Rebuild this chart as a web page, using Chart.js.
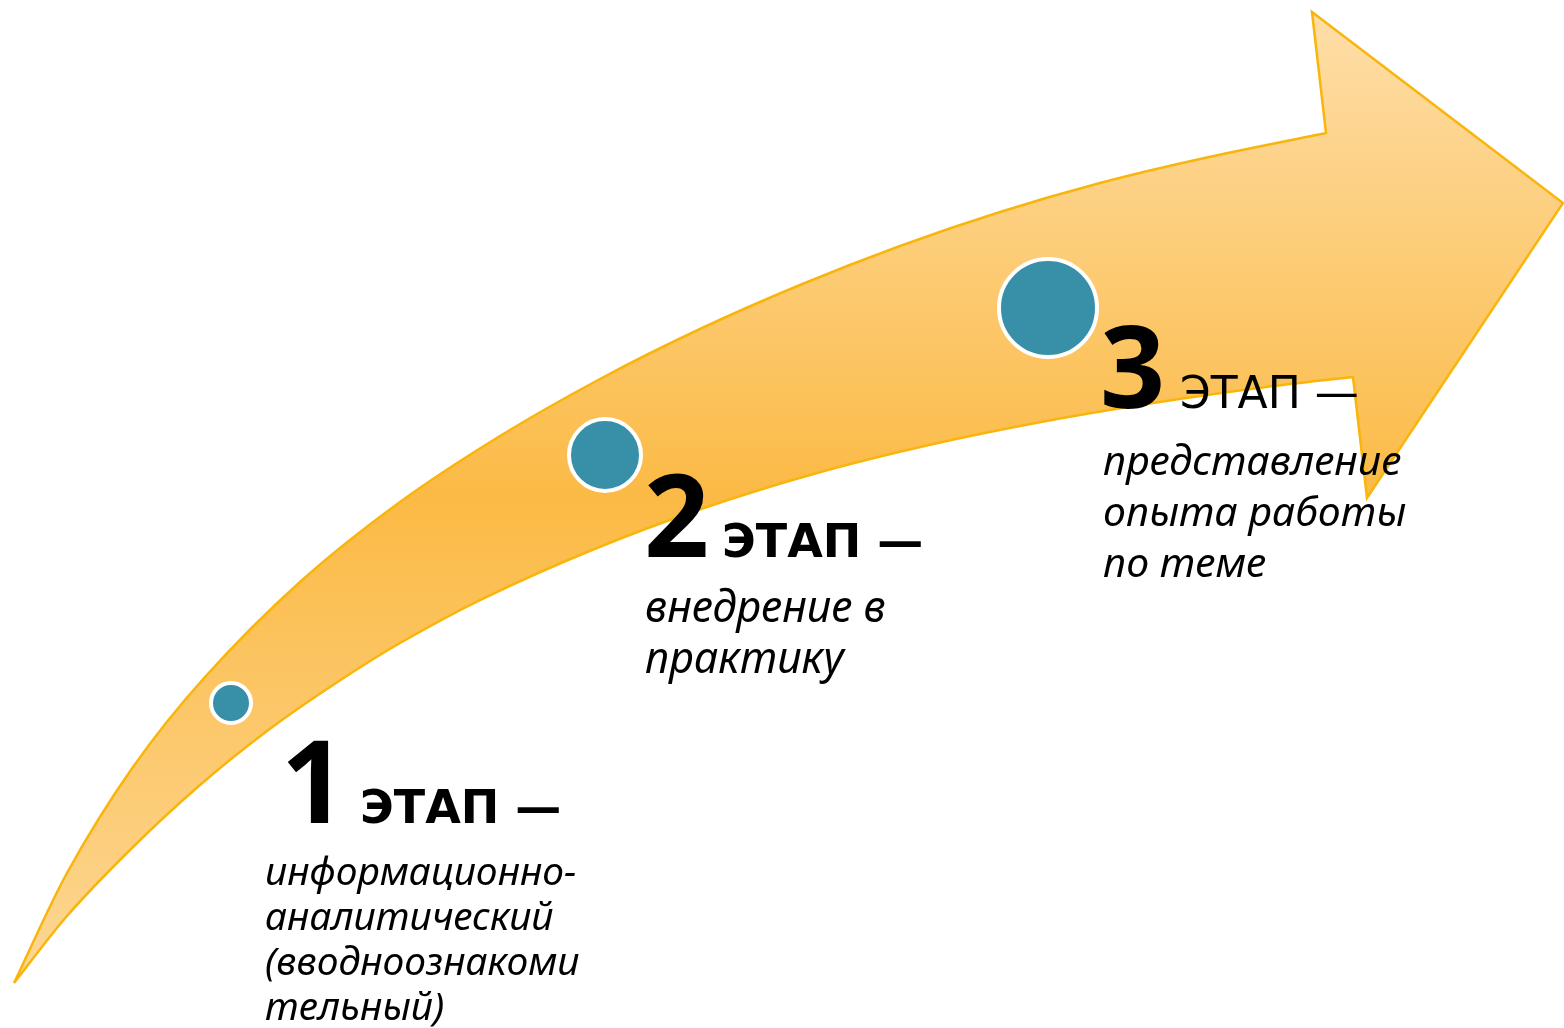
<!DOCTYPE html>
<html lang="ru">
<head>
<meta charset="utf-8">
<title>Этапы</title>
<script src="https://cdn.jsdelivr.net/npm/chart.js@4.4.1/dist/chart.umd.min.js"></script>
<style>
    html, body { margin: 0; padding: 0; background: #ffffff; overflow: hidden; }
    #chartEtapas { display: block; }
</style>
</head>
<body>
<canvas id="chartEtapas" width="1564" height="1028"></canvas>
<script>
// --- Dados (unidades = px da figura) ---
const larguraFig = 1564;
const alturaFig = 1028;

// borda superior da seta (da cauda até o entalhe)
const bordaSupX = [14, 67, 133, 205, 300, 400, 500, 600, 700, 800, 900, 1000, 1100, 1200, 1326];
const bordaSupY = [983, 873, 767, 677, 582, 502, 436, 379, 329, 285, 246, 212, 183, 159, 133];

// ponta da seta (topo, bico, base, entalhe inf.)
const pontaX = [1312, 1563, 1367, 1353];
const pontaY = [12, 203, 498, 377];

// borda inferior da seta (do entalhe de volta à cauda)
const bordaInfX = [1266, 1153, 1041, 929, 817, 704, 592, 480, 400, 333, 267, 200, 133, 67, 14];
const bordaInfY = [387, 403, 422, 445, 473, 508, 550, 600, 643, 685, 731, 785, 847, 916, 983];

// círculos das etapas
const circX = [231, 605, 1048];
const circY = [703, 455, 308];
const circR = [20, 36, 49];

// textos
const etapaNum = ['1', '2', '3'];
const etapaPalavra = 'ЭТАП —';
const etapaDesc = [
    ['информационно-', 'аналитический', '(вводноознакоми', 'тельный)'],
    ['внедрение в', 'практику'],
    ['представление', 'опыта работы', 'по теме']
];

// --- Layout dos textos ---
const numPos  = [{ x: 281, y: 823 }, { x: 644, y: 557 }, { x: 1100, y: 408 }];
const palPos  = [
    { x: 360, y: 823, fonte: 'bold 46px "DejaVu Sans", sans-serif' },
    { x: 722, y: 557, fonte: 'bold 46px "DejaVu Sans", sans-serif' },
    { x: 1180, y: 408, fonte: '44px "DejaVu Sans", sans-serif' }
];
const descPos = [{ x: 265, y: 885, lh: 45, tam: 39 }, { x: 645, y: 622, lh: 51, tam: 43 }, { x: 1103, y: 475, lh: 51, tam: 41 }];
const FONTE = '"Noto Sans", "Open Sans", sans-serif';

// contorno fechado; cantos da ponta repetidos para ficarem vivos com tension
const pt = (x, y) => ({ x, y });
const pontosSeta = [
    ...bordaSupX.map((x, i) => pt(x, bordaSupY[i])),
    pt(bordaSupX[bordaSupX.length - 1], bordaSupY[bordaSupY.length - 1]),
    ...pontaX.flatMap((x, i) => [pt(x, pontaY[i]), pt(x, pontaY[i])]),
    ...bordaInfX.map((x, i) => pt(x, bordaInfY[i]))
];
const pontosCirc = circX.map((x, i) => ({ x, y: circY[i], r: circR[i] }));

// --- Gradiente da seta ---
function gradienteSeta(context) {
    const chart = context.chart;
    const { ctx, chartArea, scales } = chart;
    if (!chartArea) return '#FCC35A';
    const y0 = scales.y.getPixelForValue(12);
    const y1 = scales.y.getPixelForValue(983);
    const g = ctx.createLinearGradient(0, y0, 0, y1);
    g.addColorStop(0, '#FEDEA8');
    g.addColorStop(0.5, '#FBBA45');
    g.addColorStop(1, '#FDD795');
    return g;
}

// --- Plugin de textos ---
const textosPlugin = {
    id: 'textosEtapas',
    afterDatasetsDraw(chart) {
        const { ctx, scales } = chart;
        const px = v => scales.x.getPixelForValue(v);
        const py = v => scales.y.getPixelForValue(v);

        ctx.save();
        ctx.fillStyle = '#000000';
        ctx.textBaseline = 'alphabetic';
        ctx.textAlign = 'left';

        etapaNum.forEach((n, i) => {
            ctx.font = `bold 114px ${FONTE}`;
            ctx.fillText(n, px(numPos[i].x), py(numPos[i].y));

            ctx.font = palPos[i].fonte;
            ctx.fillText(etapaPalavra, px(palPos[i].x), py(palPos[i].y));

            const d = descPos[i];
            ctx.font = `italic ${d.tam}px ${FONTE}`;
            etapaDesc[i].forEach((linha, k) => {
                ctx.fillText(linha, px(d.x), py(d.y + k * d.lh));
            });
        });
        ctx.restore();
    }
};

// --- Gráfico ---
new Chart(document.getElementById('chartEtapas'), {
    type: 'scatter',
    data: {
        datasets: [
            {
                type: 'bubble',
                label: 'Etapas',
                data: pontosCirc,
                backgroundColor: '#378FA8',
                borderColor: '#FFFFFF',
                borderWidth: 4,
                hoverBorderWidth: 4
            },
            {
                type: 'line',
                label: 'Seta',
                data: pontosSeta,
                showLine: true,
                fill: 'shape',
                tension: 0.3,
                backgroundColor: gradienteSeta,
                borderColor: '#F9B50C',
                borderWidth: 2.5,
                pointRadius: 0,
                pointHoverRadius: 0
            }
        ]
    },
    options: {
        responsive: false,
        devicePixelRatio: 1,
        animation: false,
        events: [],
        layout: { padding: 0, autoPadding: false },
        plugins: {
            legend: { display: false },
            tooltip: { enabled: false }
        },
        scales: {
            x: { type: 'linear', min: 0, max: larguraFig, display: false },
            y: { type: 'linear', min: 0, max: alturaFig, reverse: true, display: false }
        }
    },
    plugins: [textosPlugin]
});
</script>
</body>
</html>
